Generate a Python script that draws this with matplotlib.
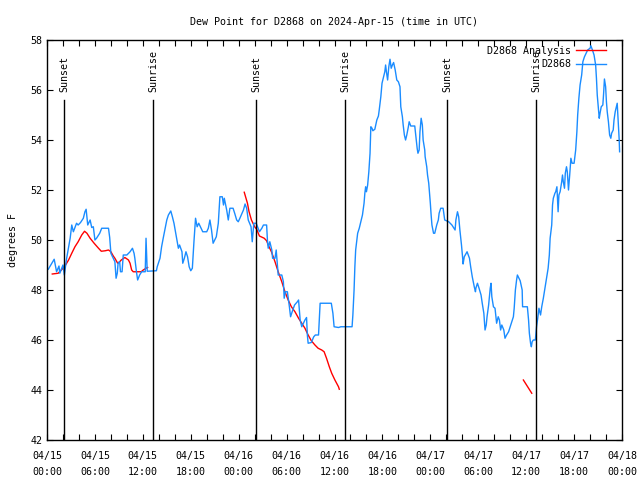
import numpy as np
import matplotlib
matplotlib.use('Agg')
import matplotlib.pyplot as plt
from matplotlib.ticker import MultipleLocator

plt.rcParams['font.family'] = 'DejaVu Sans Mono'
plt.rcParams['font.size'] = 7.2

# hours since 2024-04-15 00:00 UTC
blue_h = [0.16, 0.9, 1.2, 1.5, 1.6, 2.0, 2.17, 2.46, 2.9, 3.1, 3.3, 3.7, 3.9, 4.2, 4.55, 4.75, 4.9,
          5.1, 5.4, 5.6, 5.8, 6.0, 6.2, 6.6, 6.85, 7.7, 7.85, 8.0, 8.3, 8.5, 8.65, 8.8, 8.9, 9.1,
          9.2, 9.4, 9.55, 10.0, 10.4, 10.7, 10.9, 11.0, 11.2, 11.35, 11.6, 11.85, 12.3, 12.4, 12.55,
          13.7, 13.8, 14.15, 14.35, 14.55, 15.0, 15.2, 15.5, 15.7, 15.9, 16.2, 16.45, 16.6, 16.9,
          17.0, 17.2, 17.4, 17.6, 17.8, 18.0, 18.2, 18.4, 18.6, 18.8, 19.0, 19.2, 19.5, 20.0, 20.2,
          20.4, 20.6, 20.8, 21.0, 21.2, 21.45, 21.65, 21.95, 22.1, 22.2, 22.5, 22.7, 22.9, 23.3,
          23.5, 23.75, 23.95, 24.15, 24.6, 24.8, 25.0, 25.2, 25.55, 25.7, 25.9, 26.2, 26.6, 26.9,
          27.1, 27.5, 27.6, 27.7, 27.9, 28.15, 28.25, 28.55, 28.7, 28.85, 28.95, 29.4, 29.6, 29.7,
          29.85, 30.1, 30.35, 30.5, 30.7, 31.0, 31.35, 31.5, 31.7, 31.9, 32.1, 32.3, 32.5, 32.6,
          32.7, 33.1, 33.4, 33.6, 34.0, 34.2, 35.6, 35.8, 35.95, 36.5, 36.8, 38.2, 38.3, 38.45,
          38.55, 38.65, 38.8, 38.9, 39.1, 39.3, 39.5, 39.7, 39.8, 39.9, 40.0, 40.15, 40.3, 40.45,
          40.55, 40.7, 40.8, 41.05, 41.3, 41.5, 41.6, 41.8, 41.95, 42.1, 42.3, 42.4, 42.5, 42.65,
          42.8, 42.95, 43.1, 43.25, 43.4, 43.6, 43.8, 44.0, 44.2, 44.3, 44.5, 44.6, 44.75, 44.9,
          45.05, 45.25, 45.35, 45.55, 46.05, 46.2, 46.35, 46.45, 46.6, 46.7, 46.85, 47.0, 47.1,
          47.3, 47.35, 47.55, 47.65, 47.8, 47.9, 48.0, 48.1, 48.2, 48.4, 48.55, 48.8, 49.0, 49.1,
          49.3, 49.6, 49.8, 50.3, 50.7, 51.1, 51.2, 51.4, 51.55, 51.7, 51.9, 52.05, 52.1, 52.25,
          52.5, 52.6, 52.9, 53.05, 53.25, 53.5, 53.65, 53.7, 53.9, 54.1, 54.35, 54.5, 54.7, 54.85,
          55.0, 55.1, 55.3, 55.5, 55.6, 55.7, 55.9, 56.1, 56.3, 56.5, 56.65, 56.8, 56.95, 57.2,
          57.35, 57.55, 57.8, 58.0, 58.2, 58.4, 58.5, 58.65, 58.8, 58.9, 59.1, 59.25, 59.5, 59.55,
          60.15, 60.3, 60.4, 60.55, 60.65, 60.75, 60.9, 61.15, 61.3, 61.45, 61.6, 61.7, 61.8,
          61.95, 62.15, 62.35, 62.55, 62.75, 62.9, 63.0, 63.2, 63.3, 63.4, 63.6, 63.7, 63.85, 64.0,
          64.1, 64.25, 64.45, 64.55, 64.65, 64.8, 64.9, 65.05, 65.15, 65.3, 65.45, 65.6, 65.75,
          66.0, 66.2, 66.35, 66.45, 66.6, 66.75, 66.95, 67.1, 67.3, 67.5, 67.7, 68.0, 68.1, 68.3,
          68.5, 68.7, 68.8, 68.9, 69.05, 69.15, 69.25, 69.4, 69.6, 69.7, 69.8, 69.95, 70.05,
          70.15, 70.3, 70.45, 70.6, 70.7, 70.9, 71.0, 71.15, 71.4, 71.5, 71.65, 71.7]
blue_v = [48.83, 49.23, 48.73, 48.96, 48.67, 49.0, 48.6, 49.27, 50.07, 50.6, 50.33, 50.67, 50.6, 50.7,
          50.87, 51.13, 51.23, 50.6, 50.8, 50.5, 50.53, 50.0, 50.07, 50.27, 50.47, 50.47, 50.1,
          49.47, 49.27, 49.13, 48.47, 48.67, 49.07, 49.13, 48.73, 48.73, 49.4, 49.4, 49.53, 49.67,
          49.47, 49.27, 48.73, 48.4, 48.6, 48.73, 48.73, 50.07, 48.75,
          48.77, 48.93, 49.27, 49.73, 50.07, 50.8, 51.0, 51.16, 50.93, 50.67, 50.13, 49.67, 49.8,
          49.53, 49.07, 49.27, 49.53, 49.33, 48.93, 48.77, 48.87, 49.93, 50.87, 50.53, 50.67,
          50.53, 50.33, 50.33, 50.47, 50.8, 50.4, 49.87, 50.0, 50.13, 50.67, 51.73, 51.73, 51.4,
          51.67, 51.2, 50.8, 51.27, 51.27, 51.07, 50.8, 50.73, 50.87, 51.2, 51.44, 51.27, 50.8,
          50.53, 49.93, 50.67, 50.67, 50.33, 50.47, 50.6, 50.6, 50.0, 49.67, 49.93, 49.6, 49.27,
          49.27, 49.6, 49.0, 48.6, 48.6, 48.33, 47.67, 47.93, 47.93, 47.33, 46.93, 47.13, 47.4,
          47.53, 47.6, 46.8, 46.53, 46.67, 46.8, 46.9, 46.2, 45.87, 45.9, 46.13, 46.2, 46.2,
          47.47, 47.47, 47.07, 46.53, 46.5, 46.53, 46.53, 47.0, 48.0, 48.93, 49.6, 50.0, 50.27,
          50.47, 50.73, 51.0, 51.47, 51.87, 52.13, 51.93, 52.2, 52.73, 53.47, 54.53, 54.47, 54.37,
          54.43, 54.8, 54.96, 55.2, 55.73, 56.27, 56.47, 56.73, 57.0, 56.73, 56.4, 56.93, 57.23,
          56.87, 57.0, 57.1, 56.8, 56.4, 56.33, 56.13, 55.33, 54.93, 54.6, 54.2, 54.0, 54.2,
          54.53, 54.73, 54.56, 54.56, 54.13, 53.67, 53.47, 53.6, 54.33, 54.87, 54.6, 54.0, 53.6,
          53.33, 52.93, 52.6, 52.27, 51.87, 51.47, 51.0, 50.6, 50.27, 50.27, 50.6, 50.8, 51.07,
          51.27, 51.27, 50.8, 50.73, 50.6, 50.4, 50.8, 51.13, 50.93, 50.4, 49.8, 49.27, 49.04,
          49.33, 49.47, 49.53, 49.27, 48.93, 48.53, 48.13, 47.93, 48.07, 48.27, 48.07, 47.8,
          47.47, 47.07, 46.4, 46.6, 46.93, 47.4, 48.07, 48.27, 47.73, 47.33, 47.27, 46.67, 46.93,
          46.8, 46.4, 46.6, 46.4, 46.07, 46.2, 46.33, 46.53, 46.73, 46.93, 47.27, 48.0, 48.4,
          48.6, 48.47, 48.37, 48.0, 47.33, 47.33, 46.8, 46.27, 45.87, 45.73, 45.93, 46.0, 46.0,
          46.53, 46.87, 47.27, 47.13, 47.0, 47.33, 47.67, 48.07, 48.47, 48.87, 49.4, 50.07, 50.6,
          51.4, 51.67, 51.87, 51.93, 52.13, 51.13, 51.8, 51.93, 52.33, 52.6, 52.33, 52.07, 52.67,
          52.93, 52.73, 52.0, 52.6, 53.27, 53.07, 53.07, 53.6, 54.33, 55.0, 55.67, 56.2, 56.6,
          57.13, 57.33, 57.47, 57.6, 57.67, 57.77, 57.6, 57.4, 57.0, 56.47, 55.8, 55.27, 54.87,
          55.07, 55.33, 55.4, 55.87, 56.44, 56.13, 55.53, 55.13, 54.73, 54.2, 54.07, 54.27, 54.4,
          54.8, 55.13, 55.47, 54.87, 54.0, 53.53]

# analysis series (gaps as nan)
red_h = [0.66, 1.4, 1.8, 2.25, 2.7, 3.1, 3.5, 3.9, 4.35, 4.7, 5.0, 5.4, 5.9, 6.45, 6.8, 7.3, 7.7,
         8.0, 8.3, 8.5, 8.85, 9.1, 9.3, 9.75, 10.2, 10.4, 10.6, 10.8, 11.8, 12.05, 12.4, 12.6,
         18.0,
         24.7, 25.1, 25.3, 25.6, 26.0, 26.25, 26.6, 27.2, 27.5, 27.7, 28.1, 28.55, 28.95, 29.4,
         29.8, 30.2, 30.6, 31.05, 31.5, 31.9, 32.3, 32.7, 33.1, 33.55, 33.95, 34.4, 34.7, 35.0,
         35.35, 35.65, 36.05, 36.5, 36.6,
         48.0,
         59.65, 60.7]
red_v = [48.64, 48.67, 48.8, 48.96, 49.2, 49.47, 49.73, 49.93, 50.2, 50.35, 50.27, 50.07, 49.87,
         49.67, 49.55, 49.57, 49.6, 49.53, 49.36, 49.27, 49.07, 49.13, 49.2, 49.3, 49.2, 49.07,
         48.8, 48.73, 48.73, 48.8, 48.87, 48.9,
         np.nan,
         51.91, 51.47, 51.13, 50.8, 50.53, 50.43, 50.16, 50.07, 49.97, 49.8, 49.53, 49.13, 48.73,
         48.33, 47.93, 47.6, 47.33, 47.13, 46.87, 46.67, 46.47, 46.2, 45.97, 45.8, 45.67, 45.6,
         45.53, 45.27, 44.93, 44.67, 44.4, 44.13, 44.03,
         np.nan,
         44.4, 43.87]

sun_h = [2.13, 13.27, 26.17, 37.32, 50.09, 61.23]
sun_lbl = ['Sunset', 'Sunrise', 'Sunset', 'Sunrise', 'Sunset', 'Sunrise']

tick_h = list(range(0, 73, 6))
tick_lbl = ['04/15\n00:00', '04/15\n06:00', '04/15\n12:00', '04/15\n18:00',
            '04/16\n00:00', '04/16\n06:00', '04/16\n12:00', '04/16\n18:00',
            '04/17\n00:00', '04/17\n06:00', '04/17\n12:00', '04/17\n18:00',
            '04/18\n00:00']

fig = plt.figure(figsize=(6.4, 4.8), dpi=100)
ax = fig.add_axes([47/640, 40/480, 575/640, 400/480])

red_line, = ax.plot(red_h, red_v, color='#ff0000', lw=1.0, label='D2868 Analysis')
blue_line, = ax.plot(blue_h, blue_v, color='#1a8cff', lw=1.0, label='D2868')

for h, lbl in zip(sun_h, sun_lbl):
    ax.plot([h, h], [42, 55.6], color='black', lw=1.0)
    ax.text(h, 55.92, lbl, rotation=90, ha='center', va='bottom')

ax.set_xlim(0, 72)
ax.set_ylim(42, 58)
ax.set_xticks(tick_h)
ax.set_xticklabels(tick_lbl, linespacing=1.75)
ax.xaxis.set_minor_locator(MultipleLocator(2))
ax.yaxis.set_major_locator(MultipleLocator(2))
ax.tick_params(which='both', direction='in', top=True, right=True, length=4, width=0.8)
ax.tick_params(axis='x', pad=8)
for s in ax.spines.values():
    s.set_linewidth(1.0)

ax.set_ylabel('degrees F', labelpad=9)
ax.set_title('Dew Point for D2868 on 2024-Apr-15 (time in UTC)', fontsize=7.2, pad=11)
ax.legend(loc='upper right', bbox_to_anchor=(0.976, 0.99), frameon=False, markerfirst=False,
          handlelength=3.0, borderaxespad=0, borderpad=0.2, labelspacing=0.35, handletextpad=0.5)

fig.savefig('out.png', dpi=100)
